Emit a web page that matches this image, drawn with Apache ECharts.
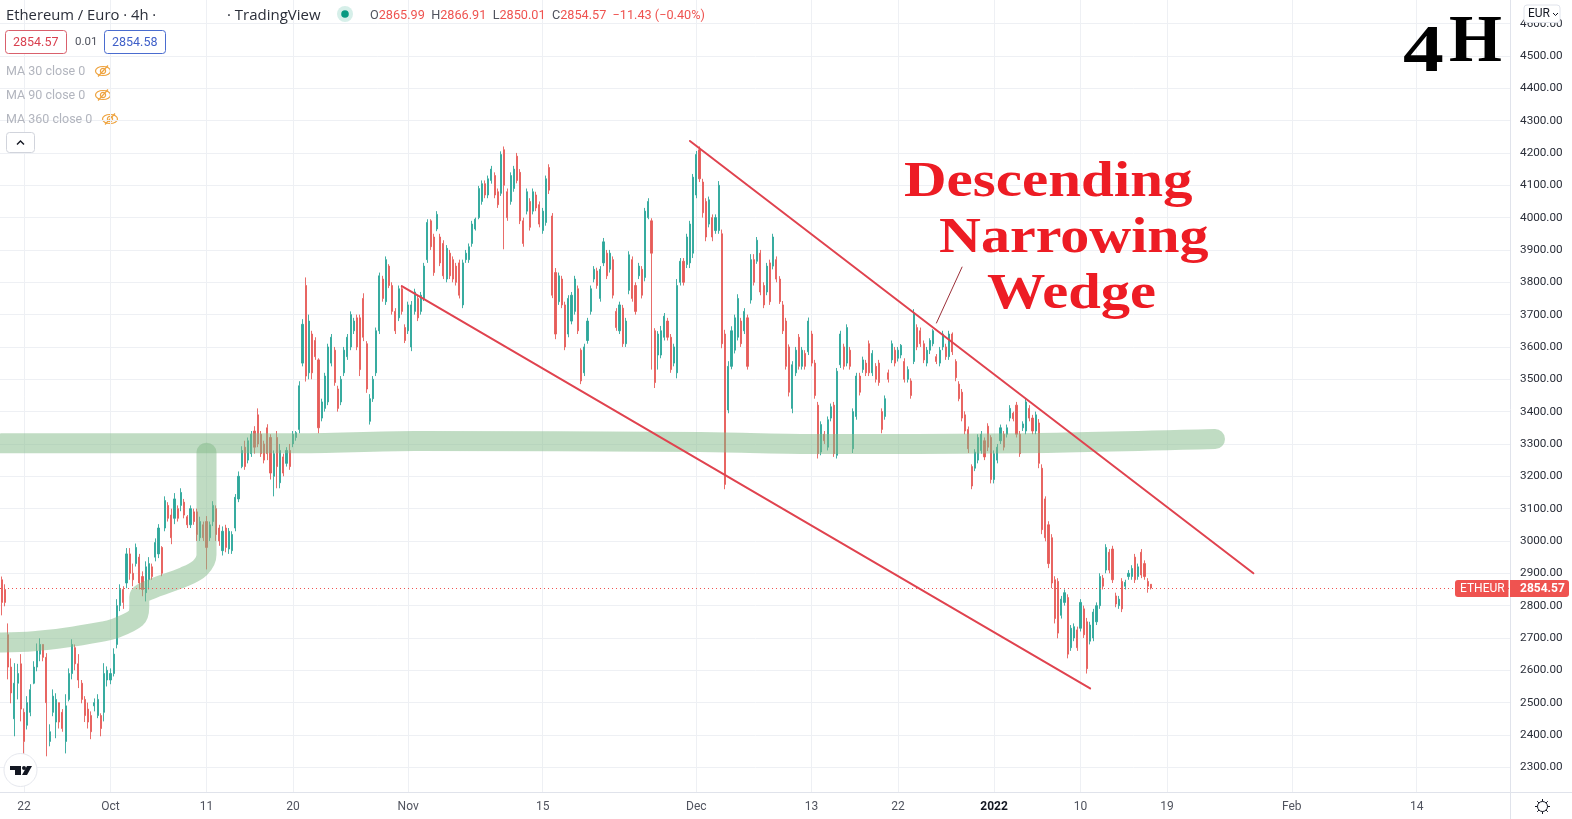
<!DOCTYPE html>
<html><head><meta charset="utf-8">
<style>html,body{margin:0;padding:0;background:#fff}#c{width:1572px;height:819px}</style>
<script src="https://cdn.jsdelivr.net/npm/echarts@6/dist/echarts.min.js"></script>
</head><body><div id="c"></div>
<script>
// rows: [open, close, low, high], one per 8 hours
const rowsSep = [
[2880,2810,2770,2890],[2850,2810,2798,2866],[2710,2610,2572,2745],[2610,2530,2498,2637],[2450,2560,2396,2622],[2560,2590,2510,2620],[2620,2480,2442,2650],[2470,2380,2334,2482],[2430,2500,2417,2520],
[2470,2540,2458,2557],[2560,2610,2557,2628],[2610,2660,2597,2683],[2650,2680,2628,2699],[2680,2640,2628,2680],[2640,2500,2334,2653],[2380,2410,2365,2433],[2470,2520,2458,2541],[2440,2510,2390,2529],[2500,2440,2420,2500],
[2470,2420,2410,2480],[2380,2490,2343,2526],[2510,2590,2504,2606],[2590,2680,2572,2696],[2670,2620,2600,2680],[2620,2570,2545,2650],[2560,2510,2498,2570],[2510,2460,2440,2520],[2480,2440,2420,2500],[2460,2410,2387,2473],
[2490,2500,2473,2513],[2460,2510,2452,2526],[2460,2420,2396,2467],[2470,2590,2442,2622],[2570,2600,2550,2612]];
const rowsOct = [
[2570,2590,2557,2606],[2590,2650,2581,2668],[2680,2800,2668,2820],[2800,2850,2783,2866],[2850,2810,2790,2860],[2870,2960,2854,2978],[2960,2900,2880,2978],[2900,2880,2860,2930],[2930,2980,2921,2992],[2950,2870,2850,2960],
[2890,2850,2829,2906],[2840,2920,2813,2937],[2880,2930,2850,2950],[2920,2890,2880,2930],[2950,2995,2937,3008],[2960,3040,2947,3052],[2980,2900,2891,2984],[3040,3125,3030,3138],[3110,3070,3060,3120],
[3080,3010,2990,3100],[3070,3130,3052,3148],[3100,3070,3060,3110],[3110,3150,3092,3163],[3120,3080,3070,3130],[3075,3050,3040,3080],[3050,3100,3040,3110],[3090,3060,3050,3100],[3090,3020,3000,3100],[3010,3060,3000,3075],
[3050,3010,3000,3060],[3060,2980,2912,3077],[3010,3050,3000,3060],[3060,3110,3046,3123],[3100,3020,3000,3110],[3040,3000,2985,3050],[2970,3030,2955,3045],[3040,2980,2965,3050],[2975,3030,2960,3040],[2970,3020,2960,3030],
[3040,3135,3030,3145],[3130,3200,3120,3215],[3230,3280,3225,3293],[3290,3230,3220,3310],[3250,3310,3240,3320],[3270,3330,3260,3340],[3340,3290,3270,3355],[3390,3300,3290,3410],[3330,3270,3260,3340],[3300,3250,3240,3310],
[3350,3270,3250,3361],[3320,3210,3190,3330],[3200,3270,3138,3280],[3320,3230,3163,3340],[3180,3280,3163,3300],[3260,3210,3200,3270],[3240,3280,3230,3290],[3280,3230,3220,3300],[3300,3330,3290,3340],[3320,3335,3310,3340],
[3345,3480,3333,3494],[3550,3670,3540,3686],[3790,3510,3493,3815],[3520,3680,3500,3700],[3640,3520,3500,3650],[3620,3570,3560,3630],[3560,3350,3333,3565],[3380,3430,3370,3440],[3410,3510,3400,3520],[3430,3600,3420,3610],
[3550,3630,3540,3640],[3590,3490,3480,3600],[3470,3410,3400,3480],[3430,3500,3420,3510],[3520,3590,3510,3600],[3570,3630,3560,3640],[3600,3700,3590,3710],[3650,3680,3640,3690],[3690,3600,3590,3700],[3690,3530,3510,3700],
[3750,3630,3618,3766],[3610,3470,3458,3618],[3370,3440,3360,3454],[3440,3500,3430,3510],[3520,3650,3510,3660],[3650,3820,3640,3830],[3810,3750,3740,3820],[3740,3870,3730,3880],[3850,3790,3782,3856],[3790,3710,3700,3800],
[3710,3650,3640,3720],[3690,3780,3680,3790],[3780,3710,3700,3790]];
const rowsNov = [
[3660,3620,3612,3670],[3650,3730,3640,3740],[3600,3730,3587,3742],[3710,3770,3700,3780],[3750,3690,3680,3760],[3710,3760,3700,3770],[3750,3850,3742,3860],[3870,3985,3860,3995],[3990,3910,3900,3995],[3940,3830,3820,3950],
[3965,4010,3958,4020],[3940,3860,3850,3950],[3920,3820,3810,3930],[3810,3905,3800,3915],[3890,3820,3810,3900],[3870,3810,3800,3880],[3850,3800,3790,3860],[3860,3760,3750,3870],[3730,3860,3720,3870],[3870,3890,3860,3900],
[3870,3910,3860,3920],[3920,3980,3910,3990],[3965,3995,3960,4000],[4000,4090,3995,4098],[4050,4105,4040,4115],[4105,4070,4060,4115],[4070,4120,4060,4130],[4115,4150,4105,4160],[4130,4070,4060,4140],[4080,4040,4030,4090],
[4075,4195,4067,4205],[4210,4100,3902,4220],[4080,4000,3990,4090],[4050,4130,4040,4140],[4090,4150,4080,4160],[4190,4115,4106,4200],[4140,3990,3980,4150],[3990,3920,3910,4000],[4020,4080,4010,4090],[4050,3970,3960,4060],
[4020,4080,4010,4090],[4070,4030,4020,4080],[4040,3980,3970,4050],[3960,4020,3950,4030],[3985,4120,3975,4130],[4155,4085,4073,4165],[4005,3760,3751,4014],[3830,3640,3624,3844],[3740,3820,3730,3830],[3810,3730,3720,3820],
[3730,3600,3590,3740],[3640,3750,3630,3760],[3680,3760,3670,3770],[3710,3810,3700,3820],[3780,3650,3640,3790],[3590,3495,3485,3596],[3520,3600,3510,3610],[3620,3680,3610,3690],[3710,3780,3700,3790],[3810,3840,3800,3850],
[3835,3790,3780,3845],[3750,3840,3740,3850],[3860,3925,3850,3937],[3890,3820,3810,3900],[3840,3890,3830,3900],[3870,3760,3750,3880],[3710,3660,3650,3720],[3650,3730,3640,3740],[3720,3610,3600,3730],[3610,3680,3600,3690],
[3775,3885,3763,3896],[3870,3750,3740,3880],[3790,3710,3700,3800],[3820,3850,3810,3860],[3840,3760,3750,3850],[3815,4020,3803,4030],[4000,4050,3995,4060],[3990,3890,3530,3998],[3650,3490,3473,3658],[3575,3640,3530,3649],
[3575,3650,3565,3665],[3630,3695,3620,3705],[3680,3630,3620,3690],[3630,3530,3520,3640],[3550,3600,3540,3610],[3520,3790,3503,3810],[3800,3865,3790,3875],[3865,3800,3790,3875],[3855,3940,3844,3950],[3860,3980,3844,3990]];
const rowsDec = [
[3890,4125,3875,4135],[4070,4195,4060,4206],[4210,4120,4110,4220],[4110,4015,4000,4120],[4050,3940,3927,4060],[3980,4055,3970,4065],[4000,3940,3927,4010],[3960,4000,3950,4010],[3960,4100,3950,4113],
[3950,3610,3596,3963],[3640,3175,3160,3653],[3405,3540,3395,3556],[3540,3650,3531,3664],[3590,3690,3580,3700],[3630,3750,3620,3763],[3680,3610,3600,3690],[3650,3710,3640,3720],[3690,3540,3530,3700],[3745,3870,3734,3887],
[3870,3800,3790,3887],[3865,3930,3857,3940],[3890,3770,3760,3900],[3790,3730,3720,3800],[3770,3850,3760,3860],[3860,3740,3730,3870],[3850,3940,3840,3950],[3870,3810,3800,3880],[3810,3740,3733,3819],[3730,3650,3640,3742],
[3680,3540,3530,3690],[3600,3460,3447,3608],[3410,3545,3395,3556],[3520,3590,3510,3600],[3630,3540,3530,3640],[3540,3590,3530,3600],[3580,3540,3530,3590],[3585,3680,3575,3691],[3640,3550,3540,3650],[3550,3450,3440,3560],
[3420,3270,3255,3430],[3275,3360,3265,3370],[3330,3310,3300,3340],[3290,3375,3280,3385],[3380,3415,3370,3425],[3420,3270,3260,3430],[3265,3525,3255,3535],[3545,3640,3535,3650],[3600,3540,3530,3610],[3550,3660,3540,3670],
[3590,3540,3530,3600],[3285,3400,3272,3410],[3385,3510,3375,3520],[3510,3460,3450,3520],[3530,3560,3520,3570],[3550,3520,3510,3560],[3610,3520,3510,3620],[3520,3580,3510,3590],[3540,3500,3490,3550],[3550,3490,3480,3560],
[3400,3345,3333,3410],[3385,3440,3375,3450],[3520,3500,3490,3530],[3560,3610,3550,3620],[3590,3550,3540,3600],[3565,3590,3555,3600],[3575,3605,3565,3609],[3555,3500,3490,3565],[3500,3530,3490,3540],[3495,3450,3440,3503],
[3555,3705,3547,3717],[3660,3600,3590,3670],[3650,3610,3600,3660],[3610,3560,3550,3620],[3550,3590,3540,3600],[3590,3620,3578,3627],[3610,3650,3602,3655],[3570,3555,3547,3578],[3550,3590,3540,3600],[3600,3640,3590,3650],
[3600,3570,3560,3610],[3570,3640,3560,3650],[3640,3585,3575,3645],[3555,3505,3494,3562],[3485,3440,3432,3494],[3460,3380,3370,3470],[3390,3340,3330,3401],[3345,3285,3272,3354],[3230,3170,3160,3237],[3225,3275,3216,3284],
[3250,3320,3240,3330],[3280,3330,3270,3340],[3310,3260,3250,3320]];
const rowsJan = [
[3355,3290,3278,3364],[3320,3190,3178,3327],[3190,3270,3178,3280],[3250,3290,3240,3300],[3310,3350,3300,3360],[3330,3290,3280,3340],[3330,3350,3320,3360],[3380,3410,3370,3420],[3395,3378,3370,3400],
[3420,3330,3320,3430],[3330,3270,3260,3340],[3350,3362,3340,3370],[3340,3430,3330,3442],[3410,3380,3370,3420],[3380,3340,3330,3390],[3340,3390,3330,3400],[3365,3240,3225,3377],[3225,3035,3021,3237],[3130,3010,2999,3138],[3050,2930,2916,3061],
[3010,2870,2854,3021],[2880,2760,2745,2891],[2875,2715,2699,2885],[2770,2820,2760,2830],[2810,2840,2800,2850],[2825,2650,2637,2835],[2670,2730,2660,2740],[2700,2735,2690,2745],[2725,2670,2660,2735],[2730,2810,2720,2820],
[2790,2710,2700,2800],[2750,2605,2590,2762],[2690,2740,2680,2750],[2700,2780,2690,2790],[2750,2800,2740,2810],[2800,2890,2790,2900],[2885,2860,2850,2895],[2910,2980,2900,2990],[2965,2910,2900,2975],[2975,2880,2870,2985],
[2830,2805,2795,2840],[2800,2820,2790,2830],[2875,2790,2780,2885],[2860,2872,2850,2880],[2890,2900,2880,2910],[2890,2915,2880,2925],[2950,2880,2870,2960],[2890,2920,2880,2930],[2965,2895,2885,2975],[2930,2890,2880,2940],
[2875,2860,2840,2885],[2865.99,2854.57,2850.01,2866.91]];
const tickKeys = ['2021-09-22T00','2021-10-01T00','2021-10-11T00','2021-10-20T00','2021-11-01T00','2021-11-15T00','2021-12-01T00','2021-12-13T00','2021-12-22T00','2022-01-01T00','2022-01-10T00','2022-01-19T00','2022-02-01T00','2022-02-14T00'];
const tickLabels = ['22','Oct','11','20','Nov','15','Dec','13','22','2022','10','19','Feb','14'];
const priceTicks = [2300,2400,2500,2600,2700,2800,2900,3000,3100,3200,3300,3400,3500,3600,3700,3800,3900,4000,4100,4200,4300,4400,4500,4600];
const lastPrice = 2854.57;
const wedgeLower = [[125,3788],[340,2544]];
const wedgeUpper = [[215,4237],[391,2900]];
const callout = [[292,3674],[300,3847]];
const bandFlat = [[0,3302],[91,3302],[129,3309],[218,3306],[253,3300],[319,3302],[379,3315]];
const bandRise = [[0,2686],[10,2690],[20,2701],[31,2719],[35,2728],[42,2762],[43,2796],[43,2827],[46,2848],[57,2889],[62,2917],[64,2957],[64,3273]];

const slotCount = 472;
const categories = [];
for (let i = 0; i < slotCount; i++) categories.push(new Date(Date.UTC(2021,8,19,16) + i*8*3600e3).toISOString().slice(0,13));
const candles = rowsSep.concat(rowsOct, rowsNov, rowsDec, rowsJan);
const tickMap = {}; tickKeys.forEach((k,i)=>tickMap[k]=tickLabels[i]);
const isTick = (i,v)=>tickMap[v]!==undefined;

const RED='#e65c59', GREEN='#2ea79b', TAG='#ef5350', GRID='#eef0f4', BORDER='#e0e3eb';
const band='rgba(130,185,135,0.5)';
const lineSeries=(data,color,width,smooth,z)=>({type:'line',data,symbol:'none',silent:true,smooth:smooth||false,z:z||5,
  lineStyle:{color,width,cap:'round',join:'round'},animation:false});

const sans='Roboto, sans-serif', head='"Open Sans", sans-serif', serif='"Liberation Serif", serif';
const txt=(x,y,text,size,fill,extra)=>({type:'text',x,y,z:50,style:Object.assign({text,fill,font:size+'px '+sans,textVerticalAlign:'middle'},extra||{})});
const bigTxt=(x,y,text,size,fill,sx)=>({type:'text',x,y,scaleX:sx||1,z:50,style:{text,fill,font:'bold '+size+'px '+serif}});
const eye=(cx,cy)=>({type:'group',x:cx,y:cy,z:50,children:[
  {type:'ellipse',shape:{cx:0,cy:0,rx:7.5,ry:4.5},style:{fill:'none',stroke:'#eea33f',lineWidth:1.2}},
  {type:'circle',shape:{cx:0,cy:0,r:2.6},style:{fill:'none',stroke:'#eea33f',lineWidth:1.2}},
  {type:'line',shape:{x1:-5,y1:5.5,x2:5,y2:-5.5},style:{stroke:'#eea33f',lineWidth:1.2}}]});
const box=(x,y,w,h,stroke,r)=>({type:'rect',z:49,shape:{x,y,width:w,height:h,r:r||3},style:{fill:'#fff',stroke,lineWidth:1}});
const gearTicks=[];
for(let a=0;a<8;a++){const c=Math.cos(a*Math.PI/4),s=Math.sin(a*Math.PI/4);
  gearTicks.push({type:'line',z:50,shape:{x1:1542.5+c*5,y1:806.5+s*5,x2:1542.5+c*7.5,y2:806.5+s*7.5},style:{stroke:'#131722',lineWidth:1}});}

const graphic=[
  txt(6,15.5,'Ethereum / Euro · 4h ·',14.8,'#2a2e39',{font:'14.8px '+head}),
  txt(227,15.5,'· TradingView',15,'#2a2e39',{font:'15px '+head}),
  {type:'circle',z:49,shape:{cx:345,cy:14,r:8},style:{fill:'#d6efe9'}},
  {type:'circle',z:50,shape:{cx:345,cy:14,r:3.8},style:{fill:'#089981'}},
  {type:'text',x:370,y:16,z:50,style:{textVerticalAlign:'middle',font:'12.7px '+sans,
    text:'{l|O}{v|2865.99}  {l|H}{v|2866.91}  {l|L}{v|2850.01}  {l|C}{v|2854.57}  {v|−11.43 (−0.40%)}',
    rich:{l:{fill:'#50535e',font:'12.7px '+sans},v:{fill:TAG,font:'12.7px '+sans}}}},
  box(5.5,30.5,61,23,'#d9606c'),txt(13,42.5,'2854.57',12.5,'#d9404f'),
  txt(75,42.5,'0.01',11.5,'#50535e'),
  box(104.5,30.5,61,23,'#4a6ccf'),txt(112,42.5,'2854.58',12.5,'#3f5fc8'),
  txt(6,72,'MA 30 close 0',12.5,'#b2b5be'),eye(103,71),
  txt(6,96,'MA 90 close 0',12.5,'#b2b5be'),eye(103,95),
  txt(6,120,'MA 360 close 0',12.5,'#b2b5be'),eye(110,119),
  box(6.5,132.5,28,20,'#d1d4dc',3),
  {type:'polyline',z:50,shape:{points:[[17,144.5],[20.5,141],[24,144.5]]},style:{fill:'none',stroke:'#131722',lineWidth:1.4}},
  bigTxt(1403,19.5,'4',68,'#000',1.2),bigTxt(1449,9,'H',68,'#000',1),
  bigTxt(904,158.5,'Descending',50,'#ed1c24',1.18),
  bigTxt(939,214.5,'Narrowing',50,'#ed1c24',1.16),
  bigTxt(987,270.5,'Wedge',50,'#ed1c24',1.17),
  {type:'rect',z:49,shape:{x:1524,y:5,width:36,height:17.5,r:3},style:{fill:'#fff',stroke:BORDER,lineWidth:1}},
  txt(1528,14,'EUR',12,'#131722'),
  {type:'polyline',z:50,shape:{points:[[1553,13],[1555.5,15.5],[1558,13]]},style:{fill:'none',stroke:'#131722',lineWidth:1}},
  {type:'rect',z:49,shape:{x:1455,y:580,width:53.5,height:17,r:[3,0,0,3]},style:{fill:TAG}},
  txt(1460,588.8,'ETHEUR',12,'#fff'),
  {type:'rect',z:49,shape:{x:1510,y:580,width:59,height:17,r:[0,3,3,0]},style:{fill:TAG}},
  txt(1520,588.8,'2854.57',12,'#fff',{font:'bold 12px '+sans}),
  {type:'line',z:48,shape:{x1:1510.5,y1:0,x2:1510.5,y2:819},style:{stroke:BORDER,lineWidth:1}},
  {type:'line',z:48,shape:{x1:0,y1:792.5,x2:1572,y2:792.5},style:{stroke:BORDER,lineWidth:1}},
  {type:'circle',z:49,shape:{cx:20.5,cy:770,r:16.5},style:{fill:'#fff',stroke:'#e6e8ee',lineWidth:1}},
  {type:'polygon',z:50,shape:{points:[[10,766],[21,766],[21,775],[15,775],[15,770],[10,770]]},style:{fill:'#131722'}},
  {type:'circle',z:50,shape:{cx:24,cy:768,r:2},style:{fill:'#131722'}},
  {type:'polygon',z:50,shape:{points:[[27,766],[32,766],[27,775],[22,775]]},style:{fill:'#131722'}},
  {type:'circle',z:50,shape:{cx:1542.5,cy:806.5,r:5},style:{fill:'none',stroke:'#131722',lineWidth:1}}
].concat(gearTicks);

const chart=echarts.init(document.getElementById('c'),null,{renderer:'canvas',width:1572,height:819});
chart.setOption({
  animation:false,backgroundColor:'#fff',
  grid:{left:0,right:60.9,top:0,bottom:26.7,containLabel:false},
  xAxis:{type:'category',data:categories,boundaryGap:true,
    axisLine:{show:false},axisTick:{show:false,alignWithLabel:true},
    splitLine:{show:true,alignWithLabel:true,interval:isTick,lineStyle:{color:GRID,width:1}},
    axisLabel:{interval:isTick,margin:9,fontSize:12,fontFamily:'Roboto',color:'#50535e',
      formatter:v=>tickMap[v]==='2022'?'{b|2022}':(tickMap[v]||''),rich:{b:{fontWeight:'bold',fontSize:12,fontFamily:'Roboto',color:'#131722'}}}},
  yAxis:{type:'value',position:'right',min:2222.7,max:4673,scale:true,
    axisLine:{show:false},
    axisTick:{show:false,customValues:priceTicks},
    splitLine:{show:true,lineStyle:{color:GRID,width:1}},
    axisLabel:{customValues:priceTicks,margin:9,fontSize:11.7,padding:[4,0,0,0],fontFamily:'Roboto',color:'#2a2e39',formatter:v=>v.toFixed(2)}},
  series:[
    {type:'candlestick',data:candles,barWidth:1.6,z:3,silent:true,
      itemStyle:{color:GREEN,color0:RED,borderColor:GREEN,borderColor0:RED,borderWidth:0.9},
      markLine:{silent:true,symbol:'none',animation:false,label:{show:false},
        lineStyle:{color:TAG,type:[1,3],width:1},data:[{yAxis:lastPrice}]}},
    lineSeries(bandFlat,band,20,0.3,4),
    lineSeries(bandRise,band,20,0.35,4),
    lineSeries(wedgeLower,'#e0434f',2,false,6),
    lineSeries(wedgeUpper,'#e0434f',2,false,6),
    lineSeries(callout,'#9c2f38',1,false,6)
  ],
  graphic:{elements:graphic}
});
</script></body></html>
